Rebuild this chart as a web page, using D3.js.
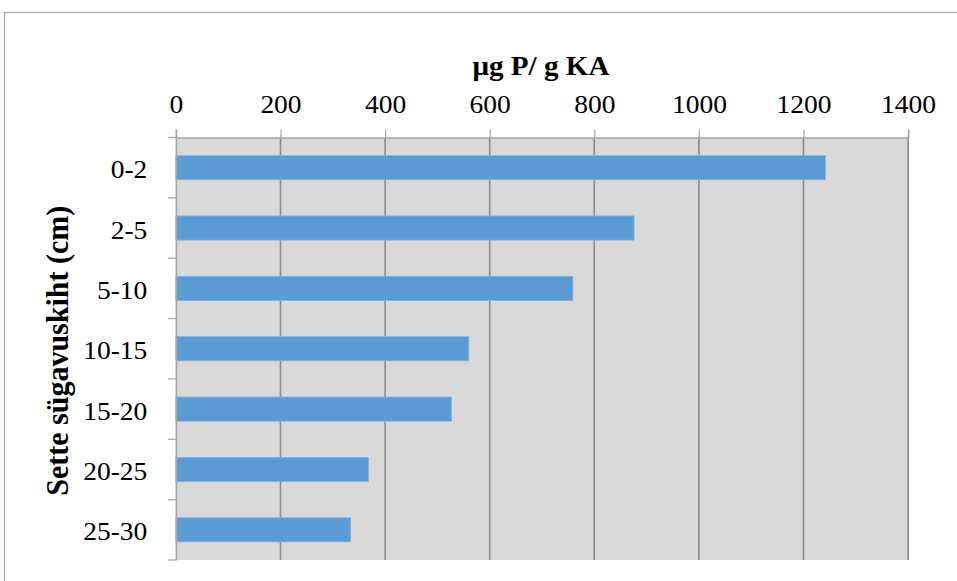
<!DOCTYPE html>
<html>
<head>
<meta charset="utf-8">
<script src="https://cdn.jsdelivr.net/npm/d3@7/dist/d3.min.js"></script>
<style>
  html, body { margin: 0; padding: 0; background: #fff; }
  svg { display: block; }
</style>
</head>
<body>
<div id="chart"></div>
<script>
// Phosphorus content by sediment depth layer
const depths = ["0-2", "2-5", "5-10", "10-15", "15-20", "20-25", "25-30"];
const phosphorus = [1242, 876, 759, 560, 527, 368, 334];
const xTicks = [0, 200, 400, 600, 800, 1000, 1200, 1400];
const xTitle = "μg P/ g KA";
const yTitle = "Sette sügavuskiht (cm)";

const W = 957, H = 581;
const plot = { left: 175.9, right: 908.1, top: 137.5, bottom: 560 };
const textStretch = 1.1;
const serif = "'Liberation Serif', 'Times New Roman', serif";

const svg = d3.select("#chart").append("svg")
  .attr("width", W).attr("height", H);

// chart frame
svg.append("rect")
  .attr("x", 4.5).attr("y", 12.5)
  .attr("width", W + 20).attr("height", H + 20)
  .attr("fill", "#fff").attr("stroke", "#a6a6a6").attr("stroke-width", 1.2);

const x = d3.scaleLinear().domain([0, 1400]).range([plot.left, plot.right]);
const y = d3.scaleBand().domain(depths)
  .range([plot.top, plot.bottom])
  .paddingInner(0.6).paddingOuter(0.3);

// plot background
svg.append("rect")
  .attr("x", plot.left).attr("y", plot.top)
  .attr("width", plot.right - plot.left).attr("height", plot.bottom - plot.top)
  .attr("fill", "#d9d9d9");

// vertical gridlines
svg.append("g").selectAll("line")
  .data(xTicks.slice(1))
  .join("line")
  .attr("x1", d => x(d)).attr("x2", d => x(d))
  .attr("y1", plot.top).attr("y2", plot.bottom)
  .attr("stroke", "#8c8c8c").attr("stroke-width", 1.6);

// bars
svg.append("g").selectAll("rect")
  .data(depths.map((d, i) => ({ depth: d, value: phosphorus[i] })))
  .join("rect")
  .attr("x", x(0))
  .attr("y", d => y(d.depth))
  .attr("width", d => x(d.value) - x(0))
  .attr("height", y.bandwidth())
  .attr("fill", "#5b9bd5")
  .attr("stroke", "#86b1df").attr("stroke-width", 0.8);

// top value axis
const xAxis = svg.append("g")
  .attr("transform", `translate(0,${plot.top})`)
  .call(d3.axisTop(x).tickValues(xTicks).tickSize(8).tickPadding(17).tickFormat(d3.format("d")));
xAxis.select(".domain").attr("stroke", "#a6a6a6").attr("stroke-width", 1.6);
xAxis.selectAll(".tick line").attr("stroke", "#a6a6a6").attr("stroke-width", 1.2);
xAxis.selectAll(".tick text")
  .attr("fill", "#000")
  .style("font-family", serif)
  .style("font-size", "25px")
  .attr("transform", `scale(${textStretch},1)`);

// left category axis with ticks between bands
const yAxis = svg.append("g")
  .attr("transform", `translate(${plot.left},0)`)
  .call(d3.axisLeft(y).tickSize(0).tickPadding(26));
yAxis.select(".domain").attr("stroke", "#a6a6a6").attr("stroke-width", 1.6);
yAxis.selectAll(".tick text")
  .attr("fill", "#000")
  .attr("dy", "0.42em")
  .style("font-family", serif)
  .style("font-size", "25px")
  .attr("transform", `scale(${textStretch},1)`);

const boundaries = depths.map(d => y(d) - y.step() * y.paddingInner() / 2)
  .concat([plot.bottom]);
yAxis.append("g").selectAll("line")
  .data(boundaries)
  .join("line")
  .attr("x1", -8).attr("x2", 0)
  .attr("y1", d => d).attr("y2", d => d)
  .attr("stroke", "#a6a6a6").attr("stroke-width", 1.2);

// axis titles
svg.append("text")
  .attr("transform", `translate(${(plot.left + plot.right) / 2 - 1},75) scale(${textStretch},1)`)
  .attr("text-anchor", "middle")
  .style("font-family", serif)
  .style("font-size", "26.5px")
  .style("font-weight", "bold")
  .text(xTitle);

svg.append("text")
  .attr("transform", `translate(68,${(plot.top + plot.bottom) / 2 + 2}) rotate(-90) scale(1,1.05)`)
  .attr("text-anchor", "middle")
  .style("font-family", serif)
  .style("font-size", "30px")
  .style("font-weight", "bold")
  .text(yTitle);
</script>
</body>
</html>
